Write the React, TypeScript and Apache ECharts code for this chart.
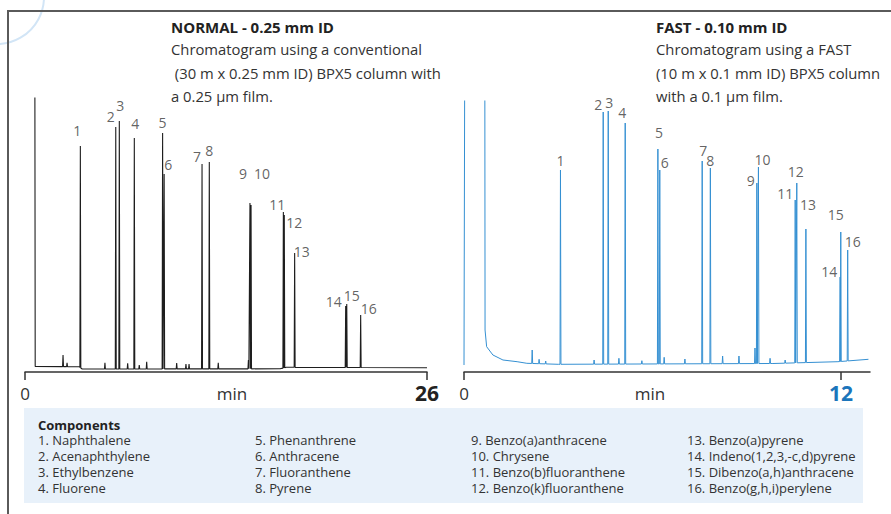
import React, { useEffect, useRef } from "react";
import * as echarts from "echarts";

const FONT = '"Open Sans", "Noto Sans", sans-serif';

// ---- shared ----
const peakIds = ["1", "2", "3", "4", "5", "6", "7", "8", "9", "10", "11", "12", "13", "14", "15", "16"];
const componentNames = [
  "Naphthalene", "Acenaphthylene", "Ethylbenzene", "Fluorene",
  "Phenanthrene", "Anthracene", "Fluoranthene", "Pyrene",
  "Benzo(a)anthracene", "Chrysene", "Benzo(b)fluoranthene", "Benzo(k)fluoranthene",
  "Benzo(a)pyrene", "Indeno(1,2,3,-c,d)pyrene", "Dibenzo(a,h)anthracene", "Benzo(g,h,i)perylene",
];
const axisUnit = "min";

// ---- NORMAL - 0.25 mm ID (time in min, response in arbitrary units) ----
const normalTitle = "NORMAL - 0.25 mm ID";
const normalText = ["Chromatogram using a conventional", " (30 m x 0.25 mm ID) BPX5 column with", "a 0.25 µm film."];
const normalPeakTimes = [3.58, 5.87, 6.1, 7.07, 8.9, 9.0, 11.45, 11.92, 14.55, 14.62, 16.71, 16.77, 17.44, 20.74, 20.81, 21.71];
const normalPeakHeights = [224, 243, 249, 232, 237, 196, 206, 208, 167, 165, 158, 155, 117, 64, 66, 55];
const normalMinorTimes = [2.46, 2.72, 5.17, 6.64, 7.39, 7.87, 9.81, 10.41, 10.61, 12.5, 14.45];
const normalMinorHeights = [15, 7.3, 7.3, 6.7, 5, 8.3, 7, 6, 6, 7.3, 10];
const normalBaseTimes = [0.66, 3.5, 3.7, 16.5, 16.9, 26];
const normalBaseLevels = [3.5, 3.3, 1.0, 1.2, 2.7, 2.3];
const normalStartTimes = [0.63];
const normalStartLevels = [400];
const normalAxisTicks = [0, 26];

// ---- FAST - 0.10 mm ID ----
const fastTitle = "FAST - 0.10 mm ID";
const fastText = ["Chromatogram using a FAST", "(10 m x 0.1 mm ID) BPX5 column", "with a 0.1 µm film."];
const fastPeakTimes = [3.07, 4.43, 4.59, 5.13, 6.17, 6.23, 7.58, 7.84, 9.32, 9.37, 10.54, 10.59, 10.88, 11.97, 11.99, 12.21];
const fastPeakHeights = [195, 253, 254, 242, 216, 195, 204, 197, 182, 198, 165, 182, 136, 88, 133, 115];
const fastMinorTimes = [2.17, 2.39, 2.6, 4.14, 4.93, 5.66, 6.37, 7.03, 8.23, 8.75, 9.26, 9.74, 10.22];
const fastMinorHeights = [15, 5.7, 4, 5, 6.7, 4.3, 7.7, 6, 9, 9, 17, 6.7, 5];
const fastBaseTimes = [0.67, 0.72, 0.92, 1.24, 1.69, 2.0, 3.0, 9.83, 11.9, 12.87];
const fastBaseLevels = [35, 18.3, 10, 5, 3.3, 1.7, 0.7, 1.5, 3.3, 5.7];
const fastStartTimes = [0, 0.03, 0.66];
const fastStartLevels = [0, 400, 400];
const fastAxisTicks = [0, 12];

// label offsets in px (styling)
const normalLabelOffsets = [
  [-3, -16], [-5, -11], [1, -16], [1, -15], [0, -11], [4, -10], [-5, -8], [0, -12],
  [-7, -30], [11, -32], [-6, -8], [10, 7], [7, -2], [-12, -5], [5, -9], [8, -7],
];
const fastLabelOffsets = [
  [0, -10], [-5, -8], [1, -9], [-3, -11], [1, -17], [5, -8], [1, -11], [0, -8],
  [-6, -3], [4, -8], [-10, -7], [-1, -12], [2, -25], [-11, -6], [-5, -18], [5, -9],
];

function baseAt(t: number, bt: number[], bv: number[]) {
  if (t <= bt[0]) return bv[0];
  for (let i = 1; i < bt.length; i++) {
    if (t <= bt[i]) {
      const f = (t - bt[i - 1]) / (bt[i] - bt[i - 1]);
      return bv[i - 1] + f * (bv[i] - bv[i - 1]);
    }
  }
  return bv[bv.length - 1];
}

function buildTrace(
  st: number[], sv: number[], bt: number[], bv: number[],
  pt: number[], ph: number[], dt: number
) {
  const pts: number[][] = [];
  st.forEach((t, i) => pts.push([t, sv[i]]));
  bt.forEach((t, i) => pts.push([t, bv[i]]));
  pt.forEach((t, i) => {
    pts.push([t - dt, baseAt(t - dt, bt, bv)], [t, ph[i]], [t + dt, baseAt(t + dt, bt, bv)]);
  });
  pts.sort((a, b) => a[0] - b[0]);
  return pts;
}

function xAxisFor(gridIndex: number, max: number, ticks: number[], offset: number, endColor: string) {
  return {
    gridIndex,
    type: "value",
    min: 0,
    max,
    offset,
    axisLine: { show: true, onZero: false, lineStyle: { color: "#333", width: 1.5 } },
    axisTick: { show: true, customValues: ticks, length: 8, lineStyle: { color: "#333", width: 1.5 } },
    axisLabel: {
      customValues: ticks,
      margin: 11,
      formatter: (v: number) => (v === ticks[1] ? `{b|${v}}` : `{a|${v}}`),
      rich: {
        a: { fontSize: 17, lineHeight: 20, color: "#333", fontFamily: FONT },
        b: { fontSize: 21, lineHeight: 20, fontWeight: "bold", color: endColor, fontFamily: FONT },
      },
    },
    splitLine: { show: false },
  };
}

function labelSeries(xi: number, times: number[], heights: number[], offsets: number[][]) {
  return {
    type: "scatter",
    xAxisIndex: xi,
    yAxisIndex: xi,
    silent: true,
    symbolSize: 1,
    itemStyle: { color: "rgba(0,0,0,0)" },
    data: times.map((t, i) => ({
      value: [t, heights[i]],
      label: { offset: offsets[i] },
    })),
    label: {
      show: true,
      position: "inside",
      align: "center",
      verticalAlign: "middle",
      formatter: (p: any) => peakIds[p.dataIndex],
      fontSize: 14,
      color: "#3a3a3a",
      fontFamily: FONT,
    },
  };
}

export default function App() {
  const ref = useRef<HTMLDivElement>(null);
  useEffect(() => {
    if (!ref.current) return;
    const chart = echarts.init(ref.current, undefined, { renderer: "svg" });

    const normalTrace = buildTrace(
      normalStartTimes, normalStartLevels, normalBaseTimes, normalBaseLevels,
      [...normalPeakTimes, ...normalMinorTimes], [...normalPeakHeights, ...normalMinorHeights], 0.03
    );
    const fastTrace = buildTrace(
      fastStartTimes, fastStartLevels, fastBaseTimes, fastBaseLevels,
      [...fastPeakTimes, ...fastMinorTimes], [...fastPeakHeights, ...fastMinorHeights], 0.015
    );

    const colX = [38, 255, 471, 687];
    const itemLines = componentNames.map((n, i) => `${i + 1}. ${n}`);
    const textColor = "#333";

    const headerBlock = (x: number, title: string, lines: string[]) => [
      { type: "text", x, y: 27, style: { text: title, font: `bold 15px ${FONT}`, fill: "#222", align: "left", verticalAlign: "middle" } },
      ...lines.map((l, i) => ({
        type: "text", x, y: 49 + i * 23.7,
        style: { text: l, font: `14.8px ${FONT}`, fill: textColor, align: "left", verticalAlign: "middle" },
      })),
    ];

    const graphic: any[] = [
      { type: "circle", z: 0, silent: true, shape: { cx: -3, cy: -3, r: 47 }, style: { fill: "none", stroke: "#d2e5f6", lineWidth: 2 } },
      { type: "line", z: 1, silent: true, shape: { x1: 8, y1: 11, x2: 891, y2: 11 }, style: { stroke: "#5a5a5a", lineWidth: 2 } },
      { type: "line", z: 1, silent: true, shape: { x1: 8, y1: 10, x2: 8, y2: 514 }, style: { stroke: "#5a5a5a", lineWidth: 2 } },
      { type: "rect", z: 0, silent: true, shape: { x: 24, y: 408, width: 839, height: 95 }, style: { fill: "#e8f1fa" } },
      ...headerBlock(171, normalTitle, normalText),
      ...headerBlock(656, fastTitle, fastText),
      // axis unit texts
      { type: "text", x: 232, y: 393.5, style: { text: axisUnit, font: `17px ${FONT}`, fill: "#333", align: "center", verticalAlign: "middle" } },
      { type: "text", x: 650, y: 393.5, style: { text: axisUnit, font: `17px ${FONT}`, fill: "#333", align: "center", verticalAlign: "middle" } },
      // components
      { type: "text", x: 38, y: 424.5, z: 2, style: { text: "Components", font: `bold 13px ${FONT}`, lineHeight: 13, fill: "#222", verticalAlign: "middle" } },
      ...itemLines.map((txt, i) => ({
        type: "text", x: colX[Math.floor(i / 4)], y: 440 + (i % 4) * 15.9, z: 2,
        style: { text: txt, font: `13px ${FONT}`, lineHeight: 14, fill: textColor, verticalAlign: "middle" },
      })),
    ];

    chart.setOption({
      animation: false,
      textStyle: { fontFamily: FONT },
      grid: [
        { left: 25, top: 98, width: 402, height: 272 },
        { left: 464, top: 101, width: 406, height: 264 },
      ],
      xAxis: [
        xAxisFor(0, 26, normalAxisTicks, 2, "#222"),
        xAxisFor(1, 12.92, fastAxisTicks, 7, "#1b75bb"),
      ],
      yAxis: [
        { gridIndex: 0, type: "value", min: 0, max: 272, show: false },
        { gridIndex: 1, type: "value", min: 0, max: 264, show: false },
      ],
      series: [
        {
          type: "line", xAxisIndex: 0, yAxisIndex: 0, silent: true, symbol: "none", clip: true,
          data: normalTrace, lineStyle: { color: "#1e1e1e", width: 1.1 },
        },
        {
          type: "line", xAxisIndex: 1, yAxisIndex: 1, silent: true, symbol: "none", clip: true,
          data: fastTrace, lineStyle: { color: "#3590d2", width: 1 },
        },
        labelSeries(0, normalPeakTimes, normalPeakHeights, normalLabelOffsets),
        labelSeries(1, fastPeakTimes, fastPeakHeights, fastLabelOffsets),
      ],
      graphic,
    });
    return () => chart.dispose();
  }, []);
  return <div ref={ref} style={{ position: "absolute", left: 0, top: 0, width: 891, height: 514 }} />;
}
